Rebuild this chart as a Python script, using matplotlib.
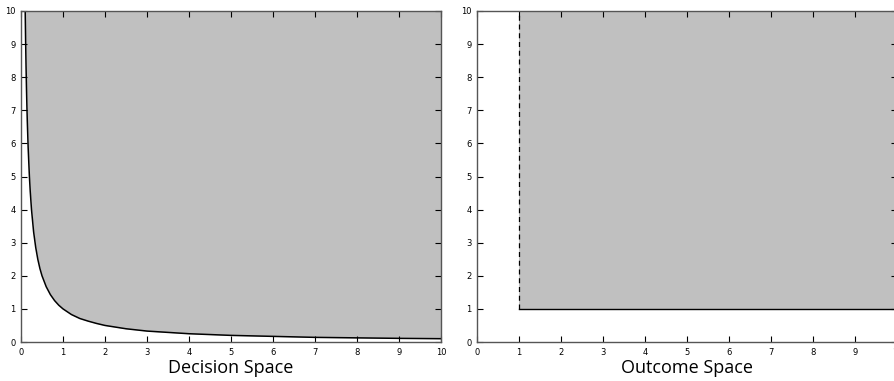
"""
Decision space vs outcome space
Feasible region x*y >= 1 and its image in the outcome space
"""

import matplotlib
matplotlib.use('Agg')
import matplotlib.pyplot as plt

# Boundary of the decision region (x * y = 1), sampled along x
boundary_x = [0.10, 0.11, 0.12, 0.13, 0.14, 0.15, 0.17, 0.20, 0.22, 0.25,
              0.30, 0.35, 0.40, 0.45, 0.50, 0.60, 0.70, 0.80, 0.90, 1.00,
              1.20, 1.40, 1.60, 1.80, 2.00, 2.50, 3.00, 3.50, 4.00, 5.00,
              6.00, 7.00, 8.00, 9.00, 10.00]
boundary_y = [10.00, 9.09, 8.33, 7.69, 7.14, 6.67, 5.88, 5.00, 4.55, 4.00,
              3.33, 2.86, 2.50, 2.22, 2.00, 1.67, 1.43, 1.25, 1.11, 1.00,
              0.83, 0.71, 0.63, 0.56, 0.50, 0.40, 0.33, 0.29, 0.25, 0.20,
              0.17, 0.14, 0.125, 0.11, 0.10]

# Outcome region corner and upper limits
outcome_min = (1, 1)
axis_max = 10
ticks = list(range(0, 11))
titles = ['Decision Space', 'Outcome Space']

fill_color = '#c0c0c0'
spine_color = '#555555'

fig = plt.figure(figsize=(8.94, 3.81), dpi=100)
ax1 = fig.add_axes([21 / 894, 39 / 381, 420 / 894, 331 / 381])
ax2 = fig.add_axes([477 / 894, 39 / 381, 420 / 894, 331 / 381])

# Decision space: everything above the hyperbola
ax1.fill_between(boundary_x, boundary_y, axis_max, color=fill_color, lw=0)
ax1.fill_between([boundary_x[-1], axis_max], [boundary_y[-1]] * 2, axis_max,
                 color=fill_color, lw=0)
ax1.plot(boundary_x, boundary_y, color='black', lw=1.1)

# Outcome space: quadrant beyond (1, 1)
x0, y0 = outcome_min
ax2.fill_between([x0, axis_max], y0, axis_max, color=fill_color, lw=0)
ax2.plot([x0, x0], [y0, axis_max], color='black', lw=0.9, ls=(0, (4, 3)))
ax2.plot([x0, axis_max], [y0, y0], color='black', lw=1.0)

for ax, title in zip([ax1, ax2], titles):
    ax.set_xlim(0, axis_max)
    ax.set_ylim(0, axis_max)
    ax.set_xticks(ticks)
    ax.set_yticks(ticks)
    ax.tick_params(direction='in', length=4, width=0.8, labelsize=6,
                   top=True, right=True, color='black', pad=4)
    for sp in ax.spines.values():
        sp.set_color(spine_color)
        sp.set_linewidth(1.0)
    ax.set_xlabel(title, fontsize=13, family='Open Sans', labelpad=2)

fig.savefig('out.png', dpi=100)
